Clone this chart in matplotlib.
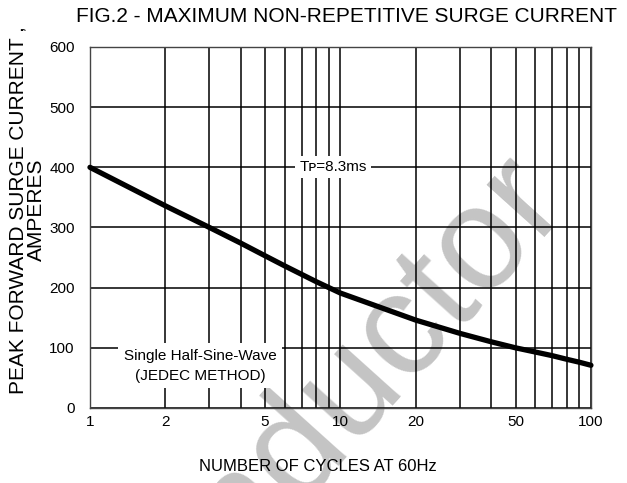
import numpy as np
import matplotlib
matplotlib.use("Agg")
import matplotlib.pyplot as plt
import matplotlib.ticker as ticker

plt.rcParams['font.family'] = ['Liberation Sans', 'DejaVu Sans']

# curve
cycles = [1, 2, 3, 4, 5, 6, 8, 10, 20, 30, 40, 50, 60, 70, 80, 90, 100]
current = [400, 336, 300, 274, 253, 236, 210, 191, 146, 124, 110, 100, 93, 87, 81, 76, 71]

x_major = [1, 2, 5, 10, 20, 50, 100]
x_minor = [3, 4, 6, 7, 8, 9, 30, 40, 60, 70, 80, 90]
y_ticks = [0, 100, 200, 300, 400, 500, 600]

fig = plt.figure(figsize=(6.27, 4.83), dpi=100)
ax = fig.add_axes([0.1435, 0.1553, 0.799, 0.7474])

ax.set_xscale('log')
ax.set_xlim(1, 100)
ax.set_ylim(0, 600)

ax.xaxis.set_major_locator(ticker.FixedLocator(x_major))
ax.xaxis.set_major_formatter(ticker.FixedFormatter([str(v) for v in x_major]))
ax.xaxis.set_minor_locator(ticker.FixedLocator(x_minor))
ax.xaxis.set_minor_formatter(ticker.NullFormatter())
ax.set_yticks(y_ticks)

ax.tick_params(which='both', length=0, labelsize=11, colors='black')
ax.tick_params(axis='y', pad=11)
ax.tick_params(axis='x', pad=5)

ax.grid(which='both', axis='x', color='black', linewidth=1.1)
ax.grid(which='major', axis='y', color='black', linewidth=1.1)
ax.set_axisbelow(True)
for s in ax.spines.values():
    s.set_color('#444444')
    s.set_linewidth(1.0)

ax.plot(cycles, current, color='black', linewidth=3.8, solid_capstyle='round',
        clip_on=False, zorder=5)

ax.text(0.485, 400, 'T\u1d18=8.3ms', transform=ax.get_yaxis_transform(),
        ha='center', va='center', fontsize=11,
        bbox=dict(facecolor='white', edgecolor='none', pad=3), zorder=4)
ax.text(0.22, 70, 'Single Half-Sine-Wave\n(JEDEC METHOD)',
        transform=ax.get_yaxis_transform(), ha='center', va='center',
        fontsize=11, linespacing=1.55,
        bbox=dict(facecolor='white', edgecolor='none', pad=4), zorder=4)

# watermark of the source datasheet, behind everything else
ax.text(0.907, 0.581, 'Semiconductor', transform=fig.transFigure,
        rotation=48, rotation_mode='anchor', ha='right', va='baseline',
        fontsize=105, color='#c4c4c4', zorder=0.1, clip_on=False)

fig.text(0.552, 0.965, 'FIG.2 - MAXIMUM NON-REPETITIVE SURGE CURRENT',
         ha='center', va='center', fontsize=15)
fig.text(0.043, 0.565, 'PEAK FORWARD SURGE CURRENT ,\nAMPERES', rotation=90,
         ha='center', va='center', fontsize=15, multialignment='center',
         linespacing=0.95)
fig.text(0.507, 0.035, 'NUMBER OF CYCLES AT 60Hz', ha='center', va='center',
         fontsize=12)

fig.savefig('out.png', dpi=100)
